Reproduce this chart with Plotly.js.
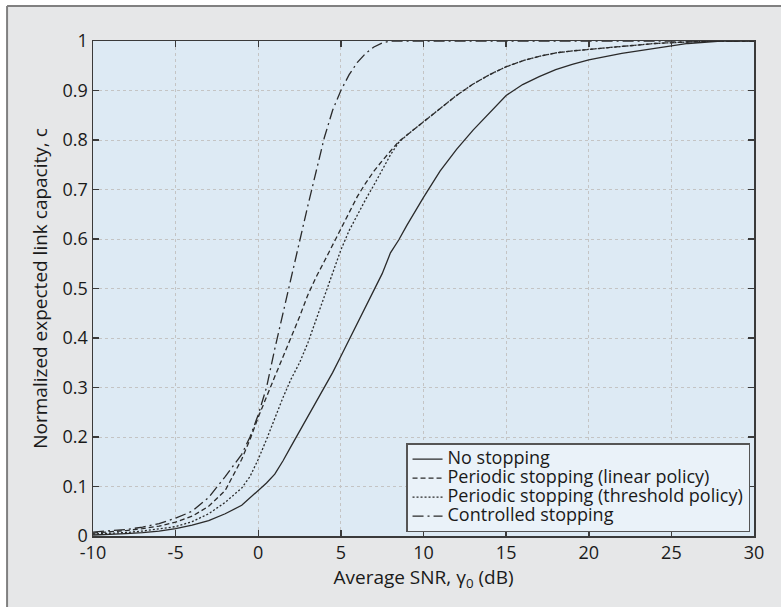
<!DOCTYPE html>
<html>
<head>
<meta charset="utf-8">
<script src="https://cdn.plot.ly/plotly-3.0.1.min.js"></script>
<style>html,body{margin:0;padding:0;background:#fff;}#chart{width:781px;height:607px;}</style>
</head>
<body>
<div id="chart"></div>
<script>
const snrDb = [-10,-9,-8,-7,-6,-5,-4,-3,-2,-1,-0.5,0,0.5,1,1.5,2,2.5,3,3.5,4,4.5,5,5.5,6,6.5,7,7.5,8,8.5,9,10,11,12,13,14,15,16,17,18,19,20,22,24,26,28,30];

const noStopping = [0.002,0.003,0.005,0.007,0.010,0.015,0.022,0.031,0.045,0.062,0.077,0.093,0.107,0.125,0.152,0.182,0.211,0.240,0.269,0.298,0.330,0.363,0.397,0.430,0.463,0.496,0.530,0.572,0.598,0.628,0.684,0.737,0.781,0.820,0.856,0.890,0.912,0.928,0.942,0.953,0.962,0.975,0.985,0.995,1.0,1.0];

const periodicLinear = [0.006,0.008,0.011,0.015,0.020,0.028,0.040,0.060,0.092,0.155,0.195,0.240,0.283,0.322,0.362,0.402,0.443,0.487,0.523,0.555,0.587,0.620,0.653,0.686,0.713,0.737,0.758,0.777,0.797,0.810,0.837,0.863,0.890,0.913,0.932,0.948,0.960,0.969,0.976,0.980,0.983,0.989,0.995,0.998,1.0,1.0];

const periodicThreshold = [0.004,0.005,0.007,0.010,0.014,0.019,0.029,0.045,0.068,0.097,0.120,0.155,0.195,0.238,0.280,0.318,0.350,0.390,0.437,0.488,0.535,0.578,0.617,0.650,0.680,0.709,0.740,0.770,0.795,0.810,0.837,0.863,0.890,0.913,0.932,0.948,0.960,0.969,0.976,0.980,0.983,0.989,0.995,0.998,1.0,1.0];

const controlled = [0.008,0.010,0.013,0.018,0.025,0.036,0.050,0.078,0.120,0.165,0.200,0.245,0.300,0.378,0.452,0.522,0.595,0.667,0.738,0.805,0.860,0.900,0.932,0.957,0.975,0.988,0.996,1.0,1.0,1.0,1.0,1.0,1.0,1.0,1.0,1.0,1.0,1.0,1.0,1.0,1.0,1.0,1.0,1.0,1.0,1.0];

const seriesNames = ['No stopping','Periodic stopping (linear policy)','Periodic stopping (threshold policy)','Controlled stopping'];
const seriesValues = [noStopping, periodicLinear, periodicThreshold, controlled];
const seriesDash = ['solid','5px,3px','2px,2px','11px,4px,2px,4px'];

const xTicks = [-10,-5,0,5,10,15,20,25,30];
const xTickText = ['-10','-5','0','5','10','15','20','25','30'];
const yTicks = [0,0.1,0.2,0.3,0.4,0.5,0.6,0.7,0.8,0.9,1];
const yTickText = ['0','0.1','0.2','0.3','0.4','0.5','0.6','0.7','0.8','0.9','1'];

const FONT = '"Open Sans", "Noto Sans", sans-serif';

const traces = seriesValues.map((vals, i) => ({
  x: snrDb, y: vals, type: 'scatter', mode: 'lines',
  name: '<span style="font-size:18px">' + seriesNames[i] + '</span>',
  line: {color: '#2a2a2a', width: 1.3, dash: seriesDash[i]}
}));

const axisCommon = {
  showline: true, mirror: 'ticks', linecolor: '#3a3a3a', linewidth: 1.5,
  ticks: 'inside', ticklen: 6, tickwidth: 1.5, tickcolor: '#3a3a3a',
  showgrid: true, gridcolor: '#c4c4c4', griddash: 'dot', gridwidth: 1,
  zeroline: false, tickfont: {family: FONT, size: 18, color: '#1a1a1a'}
};

const layout = {
  width: 781, height: 607,
  margin: {l: 93, r: 27, t: 41, b: 71},
  paper_bgcolor: '#e6e7e8', plot_bgcolor: '#ddeaf4',
  font: {family: FONT, color: '#1a1a1a'},
  xaxis: Object.assign({}, axisCommon, {
    range: [-10, 30], tickvals: xTicks, ticktext: xTickText,
    title: {text: 'Average SNR, γ<sub>0</sub> (dB)', font: {family: FONT, size: 19, color: '#1a1a1a'}, standoff: 6}
  }),
  yaxis: Object.assign({}, axisCommon, {
    range: [0, 1], tickvals: yTicks, ticktext: yTickText,
    title: {text: 'Normalized expected link capacity, c', font: {family: FONT, size: 19, color: '#1a1a1a'}, standoff: 10}
  }),
  showlegend: true,
  legend: {
    x: 0.994, xanchor: 'right', y: 0.008, yanchor: 'bottom',
    bgcolor: '#eaf2f9', bordercolor: '#555555', borderwidth: 1.5,
    font: {family: FONT, size: 12, color: '#1a1a1a'},
    tracegroupgap: 0, itemwidth: 30
  },
  shapes: [
    {type: 'rect', xref: 'paper', yref: 'paper', x0: -0.2, x1: 1.2, y0: 1.0707, y1: 1.2, fillcolor: '#ffffff', line: {width: 0}},
    {type: 'rect', xref: 'paper', yref: 'paper', x0: -0.2, x1: -0.130, y0: -0.2, y1: 1.2, fillcolor: '#ffffff', line: {width: 0}},
    {type: 'line', xref: 'paper', yref: 'paper', x0: -0.130, x1: 1.2, y0: 1.0707, y1: 1.0707, line: {color: '#808080', width: 2}},
    {type: 'line', xref: 'paper', yref: 'paper', x0: -0.130, x1: -0.130, y0: -0.2, y1: 1.0707, line: {color: '#808080', width: 2}}
  ]
};

Plotly.newPlot('chart', traces, layout, {displayModeBar: false, staticPlot: true});
</script>
</body>
</html>
